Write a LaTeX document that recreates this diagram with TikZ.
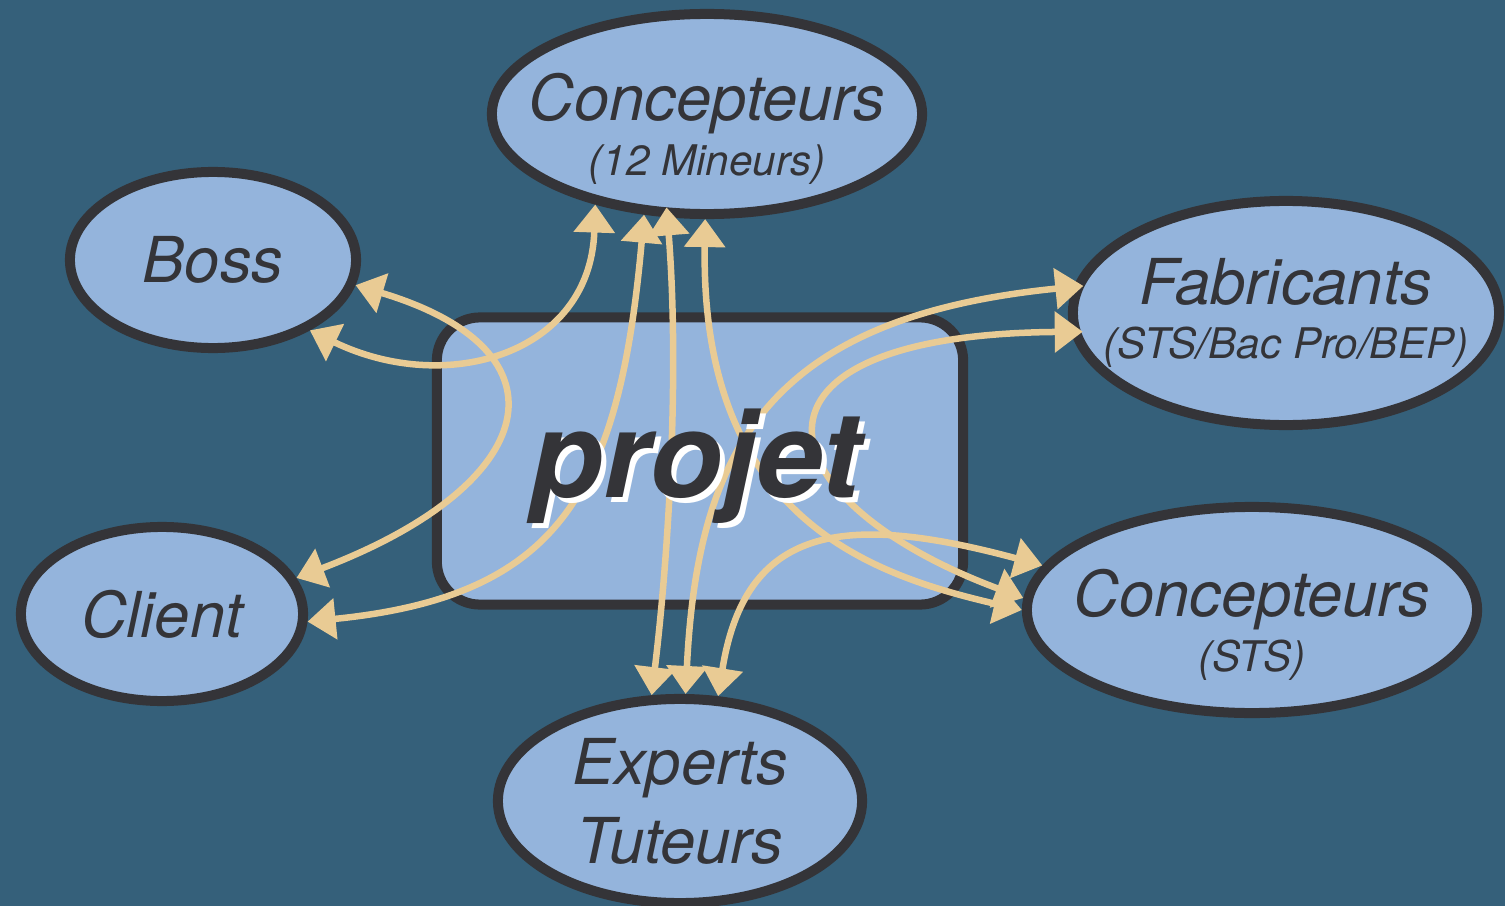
\documentclass[tikz,border=0pt]{standalone}
\usepackage{fontspec}
\setmainfont{TeX Gyre Heros}
\usetikzlibrary{shapes.geometric,arrows.meta}

\definecolor{fond}{RGB}{53,96,122}
\definecolor{remplir}{RGB}{148,180,220}
\definecolor{bord}{RGB}{52,52,56}
\definecolor{fleche}{RGB}{233,203,148}

\tikzset{
  acteur/.style={ellipse, draw=bord, fill=remplir, line width=.1cm,
    inner xsep=-1.5cm, inner ysep=-.5cm,
    text=bord, align=center, font=\itshape\fontsize{18}{15.5}\selectfont},
  echange/.style={draw=fleche, line width=.065cm,
    {Triangle[length=.28cm,width=.4cm]}-{Triangle[length=.28cm,width=.4cm]}},
}
\newcommand{\soustitre}[1]{{\fontsize{12}{15.5}\selectfont #1}}
\newcommand{\haut}{\rule{0pt}{22pt}}

\begin{document}
\begin{tikzpicture}[x=.01cm,y=-.01cm]
    \useasboundingbox (0,0) rectangle (1505,906);
    \fill[fond] (0,0) rectangle (1505,906);

    %% le projet
    \node[rectangle, rounded corners=.43cm, draw=bord, fill=remplir, line width=.1cm,
          minimum width=5.26cm, minimum height=2.87cm] (projet) at (700,461) {};

    %% acteurs
    \node[acteur, minimum width=4.3cm, minimum height=2cm] (concmin) at (707,114)
        {\haut Concepteurs\\\soustitre{(12 Mineurs)}};
    \node[acteur, minimum width=2.86cm, minimum height=1.76cm] (boss) at (213,260) {Boss};
    \node[acteur, minimum width=2.82cm, minimum height=1.74cm] (client) at (162,614) {Client};
    \node[acteur, minimum width=4.26cm, minimum height=2.24cm] (fab) at (1286,313)
        {Fabricants\\\soustitre{(STS/Bac Pro/BEP)}};
    \node[acteur, minimum width=4.5cm, minimum height=2.06cm] (concsts) at (1252,610)
        {\haut Concepteurs\\\soustitre{(STS)}};
    \node[acteur, minimum width=3.64cm, minimum height=2.04cm,
          font=\itshape\fontsize{18}{22.5}\selectfont] (expert) at (680,801)
        {Experts\\Tuteurs};

    %% echanges
    \draw[echange] (boss.-10) .. controls +(220,66) and +(245,-93) .. (client.15);
    \draw[echange] (boss.-36) .. controls +(136,66) and +(-5,150) .. (concmin.219);
    \draw[echange] (client.-3) .. controls +(250,-25) and +(-25,280) .. (concmin.238);
    \draw[echange, shorten <=-.1cm] (concmin.249) .. controls +(12,150) and +(18,-150) .. (expert.105);
    \draw[echange] (concmin.269) .. controls +(-5,300) and +(-150,-35) .. (concsts.180);
    \draw[echange, shorten <=-.1cm] (fab.173) .. controls +(-300,30) and +(12,-250) .. (expert.87);
    \draw[echange, shorten <=-.12cm] (fab.185) .. controls +(-351,3) and +(-263,-98) .. (concsts.177);
    \draw[echange] (concsts.168) .. controls +(-200,-54) and +(27,-170) .. (expert.70);

    %% titre par-dessus
    \node[text=white, anchor=base, font=\bfseries\itshape\fontsize{34}{40}\selectfont]
        (ombre) at (701,502) {projet};
    \node[text=bord, anchor=base, font=\bfseries\itshape\fontsize{34}{40}\selectfont]
        (titre) at (696,497) {projet};
\end{tikzpicture}
\end{document}
